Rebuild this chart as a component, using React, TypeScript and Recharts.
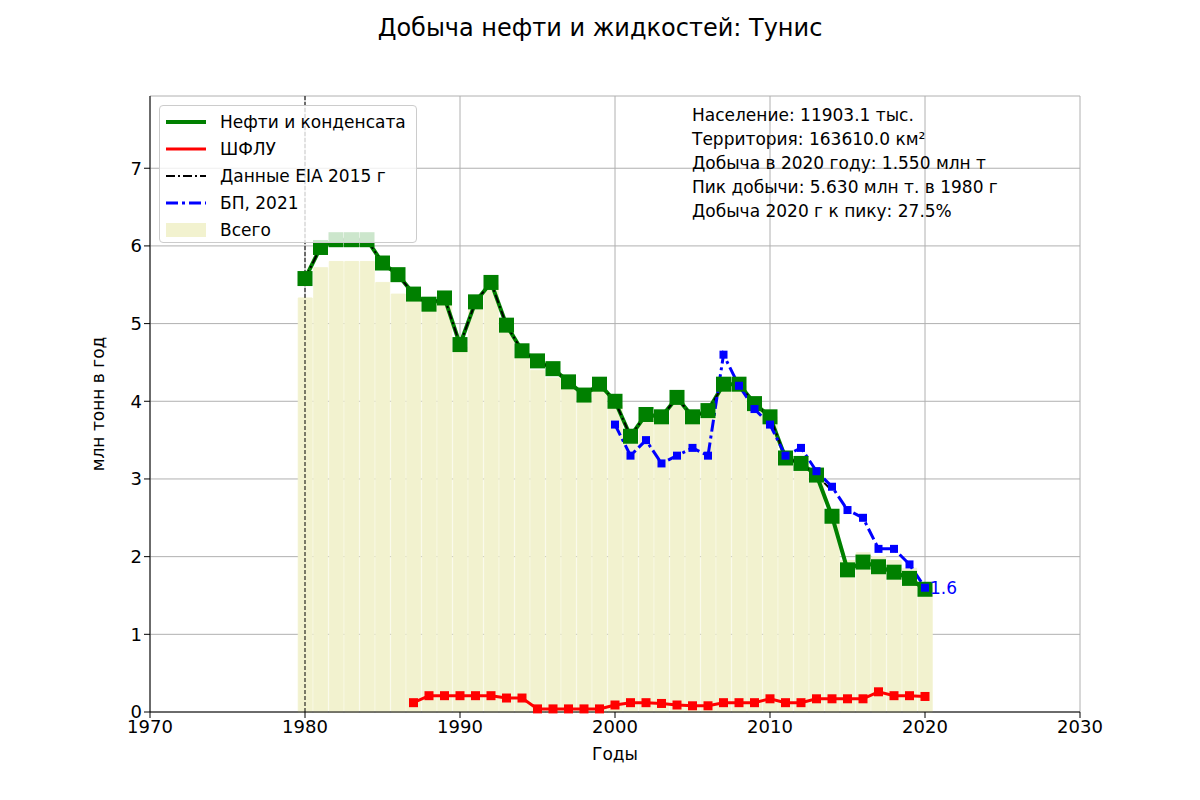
import React from "react";
import {
  ComposedChart,
  Bar,
  Line,
  XAxis,
  YAxis,
  CartesianGrid,
  ReferenceLine,
  ReferenceDot,
} from "recharts";

const years = Array.from({ length: 41 }, (_, i) => 1980 + i);
const oil = [5.58, 5.98, 6.08, 6.08, 6.08, 5.78, 5.63, 5.38, 5.25, 5.33, 4.73, 5.28, 5.53, 4.98, 4.65, 4.52, 4.42, 4.25, 4.08, 4.22, 4.0, 3.55, 3.83, 3.8, 4.05, 3.8, 3.88, 4.22, 4.22, 3.97, 3.8, 3.27, 3.2, 3.05, 2.52, 1.83, 1.93, 1.87, 1.8, 1.72, 1.58];
const eia = [5.58, 5.98, 6.08, 6.08, 6.08, 5.78, 5.63, 5.38, 5.25, 5.33, 4.73, 5.28, 5.53, 4.98, 4.65, 4.52, 4.42, 4.25, 4.08, 4.22, 4.0, 3.55, 3.83, 3.8, 4.05, 3.8, 3.88, 4.22, 4.22, 3.97, 3.8, 3.27, 3.2, 3.05, 2.85];
const ngl = [null, null, null, null, null, null, null, 0.12, 0.21, 0.21, 0.21, 0.21, 0.21, 0.18, 0.18, 0.04, 0.04, 0.04, 0.04, 0.04, 0.09, 0.12, 0.12, 0.11, 0.09, 0.08, 0.08, 0.12, 0.12, 0.12, 0.17, 0.12, 0.12, 0.17, 0.17, 0.17, 0.17, 0.26, 0.21, 0.21, 0.2];
const bp = [3.7, 3.3, 3.5, 3.2, 3.3, 3.4, 3.3, 4.6, 4.2, 3.9, 3.7, 3.3, 3.4, 3.1, 2.9, 2.6, 2.5, 2.1, 2.1, 1.9, 1.6];
const total = [5.33, 5.72, 5.8, 5.8, 5.8, 5.53, 5.38, 5.3, 5.25, 5.3, 4.7, 5.25, 5.5, 4.95, 4.6, 4.4, 4.3, 4.2, 4.05, 4.15, 3.95, 3.5, 3.8, 3.75, 4.0, 3.75, 3.85, 4.2, 4.2, 3.95, 3.8, 3.25, 3.2, 3.05, 2.55, 1.95, 2.05, 2.0, 1.95, 1.85, 1.6];
const xTicks = [1970, 1980, 1990, 2000, 2010, 2020, 2030];
const yTicks = [0, 1, 2, 3, 4, 5, 6, 7];
const infoLines = [
  "Население: 11903.1 тыс.",
  "Территория: 163610.0 км²",
  "Добыча в 2020 году: 1.550 млн т",
  "Пик добычи: 5.630 млн т. в 1980 г",
  "Добыча 2020 г к пику: 27.5%",
];

const data = years.map((y, i) => ({
  year: y,
  oil: oil[i],
  eia: i < eia.length ? eia[i] : null,
  ngl: ngl[i],
  bp: y >= 2000 ? bp[y - 2000] : null,
  total: total[i],
}));

const sq = (size: number, fill: string) => (p: any) =>
  p.cx == null || p.value == null ? <g key={p.index} /> : (
    <rect key={p.index} x={p.cx - size / 2} y={p.cy - size / 2} width={size} height={size} fill={fill} />
  );

const font = "DejaVu Sans, sans-serif";

function LegendBox() {
  const items: Array<[string, React.ReactNode]> = [
    ["Нефти и конденсата", <line x1={0} y1={8} x2={40} y2={8} stroke="green" strokeWidth={4} />],
    ["ШФЛУ", <line x1={0} y1={8} x2={40} y2={8} stroke="red" strokeWidth={3} />],
    ["Данные EIA 2015 г", <line x1={0} y1={8} x2={40} y2={8} stroke="black" strokeWidth={2} strokeDasharray="9 3 2 3" />],
    ["БП, 2021", <line x1={0} y1={8} x2={40} y2={8} stroke="blue" strokeWidth={3} strokeDasharray="12 4 3 4" />],
    ["Всего", <rect x={0} y={1} width={40} height={14} fill="#f2f2cf" />],
  ];
  return (
    <div style={{ position: "absolute", left: 159, top: 105, width: 258, height: 138, border: "1px solid #ccc", borderRadius: 4, background: "rgba(255,255,255,0.8)", padding: "2px 0 0 6px", boxSizing: "border-box" }}>
      {items.map(([t, s]) => (
        <div key={t} style={{ display: "flex", alignItems: "center", height: 27 }}>
          <svg width={44} height={16} style={{ marginRight: 10 }}>{s}</svg>
          <span style={{ fontSize: 17 }}>{t}</span>
        </div>
      ))}
    </div>
  );
}

export default function App() {
  return (
    <div style={{ position: "relative", width: 1200, height: 800, fontFamily: font, margin: -8, background: "#fff" }}>
      <div style={{ position: "absolute", top: 14, width: 1200, textAlign: "center", fontSize: 24 }}>
        Добыча нефти и жидкостей: Тунис
      </div>
      <ComposedChart width={1200} height={800} data={data} margin={{ top: 96, right: 120, bottom: 58, left: 70 }} barGap={0} barCategoryGap={0}>
        <CartesianGrid stroke="#b0b0b0" />
        <XAxis dataKey="year" type="number" domain={[1970, 2030]} ticks={xTicks} tick={{ fontSize: 18, fill: "#000" }} stroke="#000" tickSize={6} height={30}
          label={{ value: "Годы", position: "insideBottom", offset: -18, fontSize: 17, fill: "#000" }} />
        <YAxis domain={[0, 7.93]} ticks={yTicks} tick={{ fontSize: 18, fill: "#000" }} stroke="#000" width={80} tickSize={6}
          label={{ value: "млн тонн в год", angle: -90, position: "insideLeft", offset: 28, fontSize: 17, fill: "#000", style: { textAnchor: "middle" } }} />
        <Bar dataKey="total" fill="#f2f2cf" stroke="#f2f2cf" strokeWidth={1} barSize={16} isAnimationActive={false} />
        <ReferenceLine x={1980} stroke="#000" strokeDasharray="4 2" strokeWidth={1} />
        <Line dataKey="oil" stroke="green" strokeWidth={4} dot={sq(15, "green")} activeDot={false} isAnimationActive={false} />
        <Line dataKey="eia" stroke="black" strokeWidth={2} strokeDasharray="9 3 2 3" dot={false} activeDot={false} isAnimationActive={false} />
        <Line dataKey="bp" stroke="blue" strokeWidth={3} strokeDasharray="12 4 3 4" dot={sq(8, "blue")} activeDot={false} isAnimationActive={false} />
        <Line dataKey="ngl" stroke="red" strokeWidth={3} dot={sq(9, "red")} activeDot={false} isAnimationActive={false} />
        <ReferenceDot x={2020} y={1.6} r={0} label={{ value: "1.6", position: "right", fill: "blue", fontSize: 17 }} />
      </ComposedChart>
      <LegendBox />
      <div style={{ position: "absolute", left: 692, top: 103, fontSize: 17, lineHeight: "24px" }}>
        {infoLines.map((l) => <div key={l}>{l}</div>)}
      </div>
    </div>
  );
}
